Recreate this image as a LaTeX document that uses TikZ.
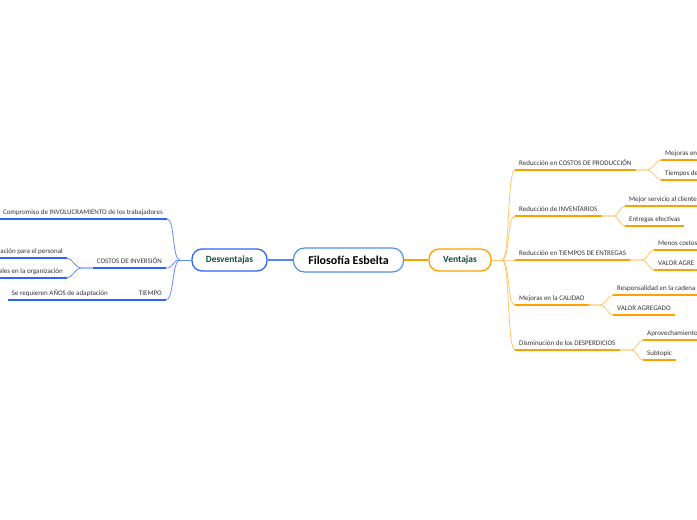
\documentclass[tikz,border=0pt]{standalone}
\usepackage{fontspec}
\setmainfont{Carlito}
\definecolor{mmblue}{RGB}{45,100,250}
\definecolor{rootblue}{RGB}{80,150,225}
\definecolor{mmorange}{RGB}{255,160,0}
\definecolor{mmgreen}{RGB}{22,76,60}
\definecolor{txt}{RGB}{51,51,51}
\tikzset{
  topic/.style={font=\fontsize{7}{8}\selectfont, text=txt, inner xsep=4pt, inner ysep=3pt, text height=5pt, text depth=1.5pt},
  branch/.style={draw, fill=white, rounded corners=10pt, line width=1.3pt, text=mmgreen, font=\fontsize{9.5}{11}\selectfont\bfseries, minimum height=22pt, inner sep=0pt},
  rootbox/.style={draw=rootblue, fill=white, rounded corners=11pt, line width=1.2pt, text=black, font=\fontsize{12}{14}\selectfont\bfseries, minimum width=110pt, minimum height=24pt, inner sep=0pt},
  bul/.style={draw=mmblue, line width=1.7pt},
  oul/.style={draw=mmorange, line width=1.7pt},
  bcon/.style={draw=mmblue!75, line width=0.8pt},
  ocon/.style={draw=mmorange!60, line width=0.8pt},
  bmain/.style={draw=mmblue!80, line width=1.3pt},
  omain/.style={draw=mmorange, line width=1.3pt}
}
\begin{document}
\begin{tikzpicture}[x=1pt,y=-1pt]
\useasboundingbox (0,0) rectangle (697,520);
\clip (0,0) rectangle (697,520);

% main nodes
\node[rootbox] (root) at (348.5,260) {Filosofía Esbelta};
\node[branch, draw=mmblue, minimum width=75pt] (desv) at (229.5,260) {Desventajas};
\node[branch, draw=mmorange, minimum width=62pt] (vent) at (460,260) {Ventajas};
\draw[bmain] (root.west) -- (desv.east);
\draw[omain] (root.east) -- (vent.west);

% ---------- right side ----------
\coordinate (vj) at (502,260);
\node[topic, anchor=south west] (r1) at (515,170) {Reducción en COSTOS DE PRODUCCIÓN};
\node[topic, anchor=south west] (r2) at (515,216) {Reducción de INVENTARIOS};
\node[topic, anchor=south west] (r3) at (515,260) {Reducción en TIEMPOS DE ENTREGAS};
\node[topic, anchor=south west] (r4) at (515,305) {Mejoras en la CALIDAD};
\node[topic, anchor=south west] (r5) at (515,350) {Disminución de los DESPERDICIOS};
\foreach \n in {r1,r2,r3,r4,r5}{\draw[oul] (\n.south west) -- (\n.south east);}
\draw[ocon] (vent.east) -- (vj);
\foreach \n in {r1,r2,r3,r4,r5}{\draw[ocon] (vj) .. controls +(8,0) and +(-8,0) .. (\n.south west);}

\node[topic, anchor=south west] (r1a) at (661,160) {Mejoras en};
\node[topic, anchor=south west] (r1b) at (661,180) {Tiempos de};
\node[topic, anchor=south west] (r2a) at (625,206) {Mejor servicio al cliente};
\node[topic, anchor=south west] (r2b) at (625,226) {Entregas efectivas};
\node[topic, anchor=south west] (r3a) at (654,250) {Menos costos};
\node[topic, anchor=south west] (r3b) at (654,270) {VALOR AGRE};
\node[topic, anchor=south west] (r4a) at (613,295) {Responsalidad en la cadena};
\node[topic, anchor=south west] (r4b) at (613,315) {VALOR AGREGADO};
\node[topic, anchor=south west] (r5a) at (643,340) {Aprovechamiento};
\node[topic, anchor=south west] (r5b) at (643,360) {Subtopic};
\foreach \n in {r1a,r1b,r2a,r2b,r3a,r3b,r4a,r4b,r5a,r5b}{\draw[oul] (\n.south west) -- (\n.south east);}
\draw[oul] (r3b.south east) -- ++(20,0);
\foreach \p/\a/\b in {r1/r1a/r1b,r2/r2a/r2b,r3/r3a/r3b,r4/r4a/r4b,r5/r5a/r5b}{
  \draw[ocon] (\p.south east) -- ++(12,0) .. controls +(5,0) and +(-5,0) .. (\a.south west);
  \draw[ocon] (\p.south east) -- ++(12,0) .. controls +(5,0) and +(-5,0) .. (\b.south west);
}

% ---------- left side ----------
\coordinate (lj) at (180,260);
\node[topic, anchor=south east] (l1) at (167,219) {Compromiso de INVOLUCRAMIENTO de los trabajadores};
\node[topic, anchor=south east] (l2) at (166,268) {COSTOS DE INVERSIÓN};
\node[topic, anchor=south east] (l3) at (166,300) {TIEMPO};
\foreach \n in {l1,l2,l3}{\draw[bul] (\n.south west) -- (\n.south east);}
\draw[bcon] (desv.west) -- (lj);
\foreach \n in {l1,l2,l3}{\draw[bcon] (lj) .. controls +(-8,0) and +(8,0) .. (\n.south east);}

\node[topic, anchor=south east] (l2a) at (67,258) {ación para el personal};
\node[topic, anchor=south east] (l2b) at (67,278) {ales en la organización};
\node[topic, anchor=south east] (l3a) at (112,300) {Se requieren AÑOS de adaptación};
\foreach \n in {l2a,l2b,l3a}{\draw[bul] (\n.south west) -- (\n.south east);}
\draw[bul] (l2a.south west) -- ++(-10,0);
\draw[bul] (l2b.south west) -- ++(-10,0);
\draw[bcon] (l2.south west) -- ++(-12,0) .. controls +(-5,0) and +(5,0) .. (l2a.south east);
\draw[bcon] (l2.south west) -- ++(-12,0) .. controls +(-5,0) and +(5,0) .. (l2b.south east);
\draw[bul] (l3.south west) -- (l3a.south east);
\end{tikzpicture}
\end{document}
